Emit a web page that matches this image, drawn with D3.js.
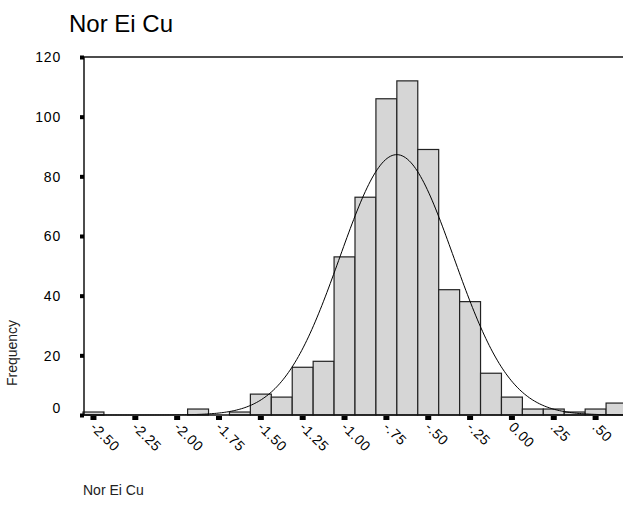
<!DOCTYPE html>
<html>
<head>
<meta charset="utf-8">
<script src="https://cdnjs.cloudflare.com/ajax/libs/d3/7.8.5/d3.min.js"></script>
<style>
  body { margin: 0; background: #fff; }
  text { font-family: "Liberation Sans", Arial, sans-serif; fill: #000; }
</style>
</head>
<body>
<div id="chart"></div>
<script>
// histogram bins (bin centres, width .125) and counts
var binCenters = [-2.5, -2.375, -2.25, -2.125, -2.0, -1.875, -1.75, -1.625, -1.5, -1.375,
                  -1.25, -1.125, -1.0, -0.875, -0.75, -0.625, -0.5, -0.375, -0.25, -0.125,
                  0.0, 0.125, 0.25, 0.375, 0.5, 0.625];
var counts = [1, 0, 0, 0, 0, 2, 0, 1, 7, 6,
              16, 18, 53, 73, 106, 112, 89, 42, 38, 14,
              6, 2, 2, 1, 2, 4];
var binWidth = 0.125;

// fitted normal curve parameters
var curveMean = -0.685, curveSd = 0.34, curveN = 595;

var xTicks = [-2.5, -2.25, -2.0, -1.75, -1.5, -1.25, -1.0, -0.75, -0.5, -0.25, 0.0, 0.25, 0.5];
var xTickLabels = ["-2.50", "-2.25", "-2.00", "-1.75", "-1.50", "-1.25", "-1.00", "-.75", "-.50", "-.25", "0.00", ".25", ".50"];
var yTicks = [0, 20, 40, 60, 80, 100, 120];

var width = 623, height = 508;
var plotLeft = 84, plotTop = 57, plotBottom = 415;

var svg = d3.select("#chart").append("svg")
    .attr("width", width)
    .attr("height", height);

var x = d3.scaleLinear()
    .domain([-2.5625, 0.6875])
    .range([82.5, 626.5]);

var y = d3.scaleLinear()
    .domain([0, 120])
    .range([plotBottom, plotTop]);

// bars
svg.append("g")
    .attr("class", "bars")
    .selectAll("rect")
    .data(binCenters.map(function(c, i) { return {c: c, n: counts[i]}; })
          .filter(function(d) { return d.n > 0; }))
    .enter().append("rect")
    .attr("x", function(d) { return x(d.c - binWidth / 2) + 0.5; })
    .attr("y", function(d) { return y(d.n); })
    .attr("width", function(d) { return x(d.c + binWidth / 2) - x(d.c - binWidth / 2); })
    .attr("height", function(d) { return y(0) - y(d.n); })
    .attr("fill", "#d6d6d6")
    .attr("stroke", "#222")
    .attr("stroke-width", 1.2);

// normal curve
var curvePts = d3.range(-2.5625, 0.6875, 0.01).map(function(v) {
  var z = (v - curveMean) / curveSd;
  return [v, curveN * binWidth / (curveSd * Math.sqrt(2 * Math.PI)) * Math.exp(-0.5 * z * z)];
});
svg.append("path")
    .datum(curvePts)
    .attr("fill", "none")
    .attr("stroke", "#000")
    .attr("stroke-width", 1)
    .attr("d", d3.line()
      .x(function(d) { return x(d[0]); })
      .y(function(d) { return y(d[1]); }));

// frame
var frame = svg.append("g").attr("stroke", "#111").attr("stroke-width", 1.5);
frame.append("line").attr("x1", plotLeft).attr("x2", width).attr("y1", plotTop).attr("y2", plotTop);
frame.append("line").attr("x1", plotLeft).attr("x2", width).attr("y1", plotBottom).attr("y2", plotBottom);
frame.append("line").attr("x1", plotLeft).attr("x2", plotLeft).attr("y1", plotTop).attr("y2", plotBottom);

// y axis
var yAxis = svg.append("g")
    .attr("transform", "translate(" + plotLeft + ",0)")
    .call(d3.axisLeft(y).tickValues(yTicks).tickSize(0).tickPadding(23));
yAxis.select(".domain").remove();
yAxis.selectAll(".tick text")
    .style("font-size", "14px")
    .style("letter-spacing", "0.8px")
    .attr("dy", function(d) { return d === 0 ? "-0.2em" : "0.35em"; });
yAxis.selectAll(".tick").append("rect")
    .attr("x", -4).attr("y", -2).attr("width", 4).attr("height", 4)
    .attr("fill", "#000");

// x axis
var xAxis = svg.append("g")
    .attr("transform", "translate(0," + plotBottom + ")")
    .call(d3.axisBottom(x).tickValues(xTicks).tickSize(0)
      .tickFormat(function(d, i) { return xTickLabels[i]; }));
xAxis.select(".domain").remove();
xAxis.selectAll(".tick").append("rect")
    .attr("x", -3).attr("y", 1).attr("width", 6).attr("height", 4)
    .attr("fill", "#000");
xAxis.selectAll(".tick text")
    .style("font-size", "14px")
    .style("letter-spacing", "0.5px")
    .attr("text-anchor", "start")
    .attr("x", 0).attr("y", 0).attr("dy", 0)
    .attr("transform", "translate(-4,13) rotate(45)");

// titles
svg.append("text")
    .attr("x", 69).attr("y", 32)
    .style("font-size", "24px")
    .text("Nor Ei Cu");

svg.append("text")
    .attr("x", 83).attr("y", 495)
    .style("font-size", "14px")
    .style("fill", "#222")
    .text("Nor Ei Cu");

svg.append("text")
    .attr("transform", "translate(17,353) rotate(-90)")
    .attr("text-anchor", "middle")
    .style("font-size", "14px")
    .style("fill", "#222")
    .text("Frequency");
</script>
</body>
</html>
